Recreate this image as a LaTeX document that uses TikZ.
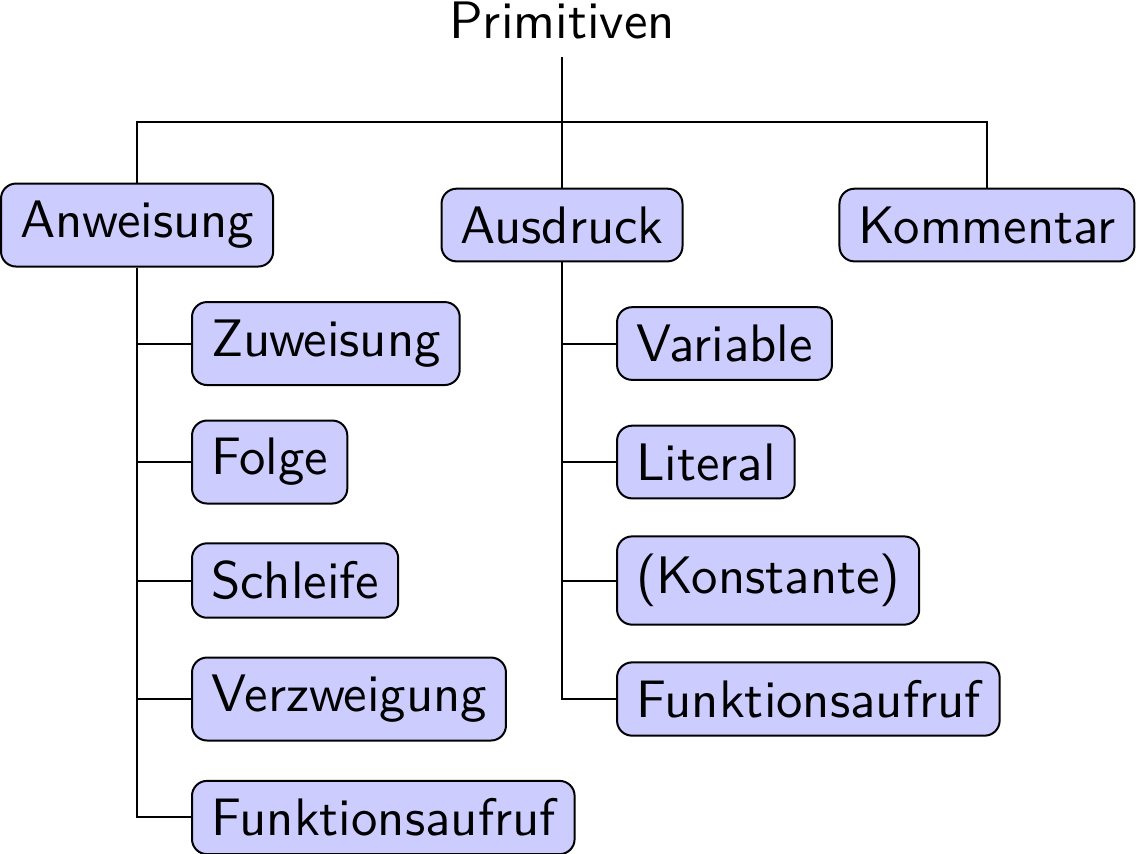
\documentclass[tikz,border=0pt]{standalone}
\begin{document}
\begin{tikzpicture}[scale=0.833, font=\sffamily\fontsize{10.55}{12.6}\selectfont,
  every node/.style={inner xsep=3.8pt, inner ysep=3.55pt},
  box/.style={draw, fill=blue!20, rounded corners=3pt}]
\useasboundingbox (-4.743,-5.300) rectangle (4.844,1.899);
% Wurzel
\node[anchor=base] (prim) at (0,1.578) {Primitiven};
\coordinate (fork) at (0,0.869);
% Erste Ebene
\node[box] (anw) at (-3.586,0) {Anweisung};
\node[box] (ausd) at (0,0) {Ausdruck};
\node[box] (komm) at (3.586,0) {Kommentar};

% Verbindungen zur Wurzel
\draw (prim.south) -- (ausd.north);
\draw (anw.north) |- (fork) -| (komm.north);

% Anweisungen
\foreach \name/\txt [count=\i] in {zuw/Zuweisung, folge/Folge, schl/Schleife, verz/Verzweigung, anwfkt/Funktionsaufruf} {
  \node[box, anchor=west] (\name) at (-3.131,-\i) {\txt};
  \draw (anw.south) |- (\name.west);
}

% Ausdruecke
\foreach \name/\txt [count=\i] in {var/Variable, lit/Literal, konst/{(Konstante)}, ausdfkt/Funktionsaufruf} {
  \node[box, anchor=west] (\name) at (0.456,-\i) {\txt};
  \draw (ausd.south) |- (\name.west);
}
\end{tikzpicture}
\end{document}
